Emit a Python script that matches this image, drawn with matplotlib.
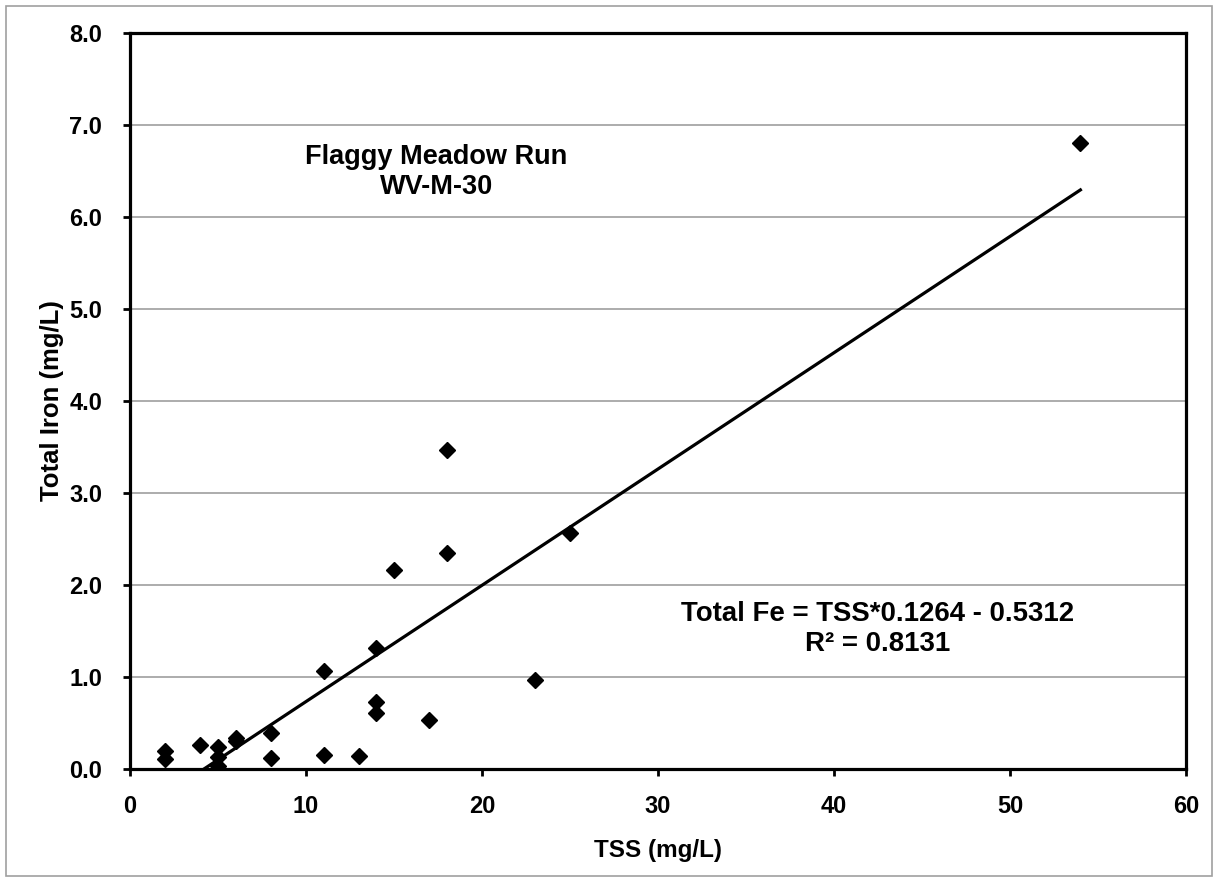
import matplotlib
matplotlib.use("Agg")
import matplotlib.pyplot as plt
from matplotlib.patches import Rectangle
import numpy as np

tss = [2, 2, 4, 5, 5, 5, 6, 6, 8, 8, 11, 11, 13, 14, 14, 14, 15, 17, 18, 18, 23, 25, 54]
iron = [0.20, 0.11, 0.26, 0.24, 0.13, 0.03, 0.30, 0.34, 0.39, 0.12, 1.07, 0.15,
        0.14, 1.32, 0.73, 0.61, 2.16, 0.53, 2.35, 3.47, 0.97, 2.56, 6.80]
slope = 0.1264
intercept = -0.5312
r2 = 0.8131
xticks = [0, 10, 20, 30, 40, 50, 60]
yticks = [0.0, 1.0, 2.0, 3.0, 4.0, 5.0, 6.0, 7.0, 8.0]

plt.rcParams['font.family'] = ['Liberation Sans', 'DejaVu Sans']
plt.rcParams['font.weight'] = 'bold'

fig = plt.figure(figsize=(12.18, 8.82), dpi=100)
fig.patches.append(Rectangle((6/1218, 6/882), 1206/1218, 870/882, transform=fig.transFigure,
                             fill=False, edgecolor='#a0a0a0', linewidth=1.2))
ax = fig.add_axes([130/1218, 1 - 769/882, (1186-130)/1218, (769-33)/882])

ax.set_xlim(0, 60)
ax.set_ylim(0, 8)
ax.set_xticks(xticks)
ax.set_xticklabels([str(v) for v in xticks], fontsize=17, fontweight='bold')
ax.set_yticks(yticks)
ax.set_yticklabels([f"{v:.1f}" for v in yticks], fontsize=17, fontweight='bold')
ax.grid(axis='y', color='#a6a6a6', linewidth=1.3)
ax.set_axisbelow(True)
for s in ax.spines.values():
    s.set_linewidth(2.3)
    s.set_color('black')
ax.tick_params(axis='x', direction='out', length=5, width=2, pad=14)
ax.tick_params(axis='y', direction='out', length=5, width=2, pad=15)

xl = np.array([min(tss), max(tss)])
ax.plot(xl, slope * xl + intercept, color='black', linewidth=2.3, zorder=2)
ax.plot(tss, iron, linestyle='none', marker='D', markersize=8.5, color='black', zorder=3)

ax.set_xlabel('TSS (mg/L)', fontsize=17.5, fontweight='bold', labelpad=15)
ax.set_ylabel('Total Iron (mg/L)', fontsize=18.5, fontweight='bold', labelpad=4)

ax.text(17.4, 6.49, 'Flaggy Meadow Run\nWV-M-30', ha='center', va='center',
        fontsize=19.5, fontweight='bold', linespacing=1.22)
ax.text(42.5, 1.52, f'Total Fe = TSS*{slope:.4f} - {abs(intercept):.4f}\nR² = {r2:.4f}',
        ha='center', va='center', fontsize=19.9, fontweight='bold', linespacing=1.2)

fig.savefig('out.png', dpi=100)
